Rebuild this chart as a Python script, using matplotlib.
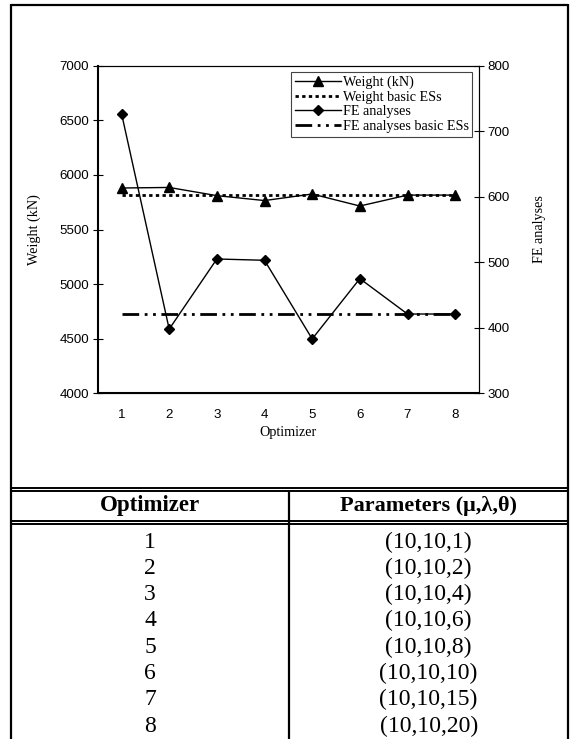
import matplotlib
matplotlib.use("Agg")
import matplotlib.pyplot as plt
from matplotlib.lines import Line2D

# optimizer runs and their results
optimizers = [1, 2, 3, 4, 5, 6, 7, 8]
weight = [5880, 5885, 5810, 5765, 5825, 5715, 5815, 5815]
weight_basic = [5820] * 8
fe_analyses = [727, 398, 505, 503, 383, 475, 421, 421]
fe_basic = [421] * 8

# parameter table
table_header = ["Optimizer", "Parameters (\u03bc,\u03bb,\u03b8)"]
table_params = ["(10,10,1)", "(10,10,2)", "(10,10,4)", "(10,10,6)",
                "(10,10,8)", "(10,10,10)", "(10,10,15)", "(10,10,20)"]

W, H = 574, 739
SERIF = "Liberation Serif"
SANS = "Liberation Sans"

fig = plt.figure(figsize=(W / 100, H / 100), dpi=100)


def fx(px):
    return px / W


def fy(py):
    return 1 - py / H


# plot area in pixels
x0, x1, y0, y1 = 97.7, 479.0, 65.7, 393.3
ax = fig.add_axes([fx(x0), fy(y1), fx(x1) - fx(x0), fy(y0) - fy(y1)])
ax2 = ax.twinx()

l1, = ax.plot(optimizers, weight, color="black", lw=1.0, marker="^", ms=6.5,
              label="Weight (kN)")
l2, = ax.plot(optimizers, weight_basic, color="black", lw=2.0,
              linestyle=(0, (1.2, 1.2)), label="Weight basic ESs")
l3, = ax2.plot(optimizers, fe_analyses, color="black", lw=1.0, marker="D", ms=5,
               label="FE analyses")
l4, = ax2.plot(optimizers, fe_basic, color="black", lw=2.0,
               linestyle=(0, (6, 2, 1, 2, 1, 2)), label="FE analyses basic ESs")

ax.set_xlim(0.5, 8.5)
ax.set_ylim(4000, 7000)
ax2.set_ylim(300, 800)
ax.set_xticks(optimizers)
ax.set_yticks(range(4000, 7001, 500))
ax2.set_yticks(range(300, 801, 100))

for a in (ax, ax2):
    for s in a.spines.values():
        s.set_linewidth(0.8)
ax.spines["left"].set_linewidth(1.5)
ax.spines["bottom"].set_linewidth(1.5)
ax2.spines["left"].set_visible(False)

ax.tick_params(axis="y", direction="inout", length=6.5, width=0.8, pad=3,
               labelsize=9.6)
ax2.tick_params(axis="y", direction="inout", length=6.5, width=0.8, pad=3,
                labelsize=9.6)
ax.tick_params(axis="x", length=0, pad=11, labelsize=9.6)
for lab in ax.get_xticklabels() + ax.get_yticklabels() + ax2.get_yticklabels():
    lab.set_fontfamily(SANS)

ax.set_xlabel("Optimizer", fontfamily=SERIF, fontsize=10.2)
ax.xaxis.set_label_coords(0.5, -0.10)
ax.set_ylabel("Weight (kN)", fontfamily=SERIF, fontsize=10.2)
ax.yaxis.set_label_coords(-0.148, 0.5)
ax2.set_ylabel("FE analyses", fontfamily=SERIF, fontsize=10.2)
ax2.yaxis.set_label_coords(1.142, 0.5)

leg = ax2.legend(handles=[l1, l2, l3, l4], loc="upper left",
                 bbox_to_anchor=(0.507, 0.981), borderaxespad=0,
                 prop={"family": SERIF, "size": 10.2}, handlelength=3.25,
                 handletextpad=0.15, labelspacing=0.12, borderpad=0.25,
                 fancybox=False, framealpha=1, edgecolor="#444444")
leg.get_frame().set_linewidth(0.8)

# outer frame and table rules
frame_l, frame_r, frame_t = 11, 568, 5


def hline(py, lw=1.6, xa=frame_l, xb=frame_r):
    fig.add_artist(Line2D([fx(xa), fx(xb)], [fy(py), fy(py)], color="black",
                          lw=lw, solid_capstyle="butt"))


def vline(px, ya, yb, lw=1.6):
    fig.add_artist(Line2D([fx(px), fx(px)], [fy(ya), fy(yb)], color="black",
                          lw=lw, solid_capstyle="butt"))


hline(frame_t)
vline(frame_l, frame_t - 0.6, H + 2)
vline(frame_r, frame_t - 0.6, H + 2)
for py in (487.7, 490.9, 520.8, 524.0):
    hline(py, lw=1.4)
vline(289.3, 491, H + 2)

col1, col2 = (frame_l + 289.3) / 2, (289.3 + frame_r) / 2
fig.text(fx(col1), fy(506), table_header[0], ha="center", va="center",
         fontfamily=SERIF, fontweight="bold", fontsize=16.5)
fig.text(fx(col2), fy(506), table_header[1], ha="center", va="center",
         fontfamily=SERIF, fontweight="bold", fontsize=16)

row_y0, row_step = 542, 26.3
for i, (opt, par) in enumerate(zip(optimizers, table_params)):
    py = row_y0 + i * row_step
    fig.text(fx(col1), fy(py), str(opt), ha="center", va="center",
             fontfamily=SERIF, fontsize=17)
    fig.text(fx(col2), fy(py), par, ha="center", va="center",
             fontfamily=SERIF, fontsize=17)

fig.savefig("out.png", dpi=100)
